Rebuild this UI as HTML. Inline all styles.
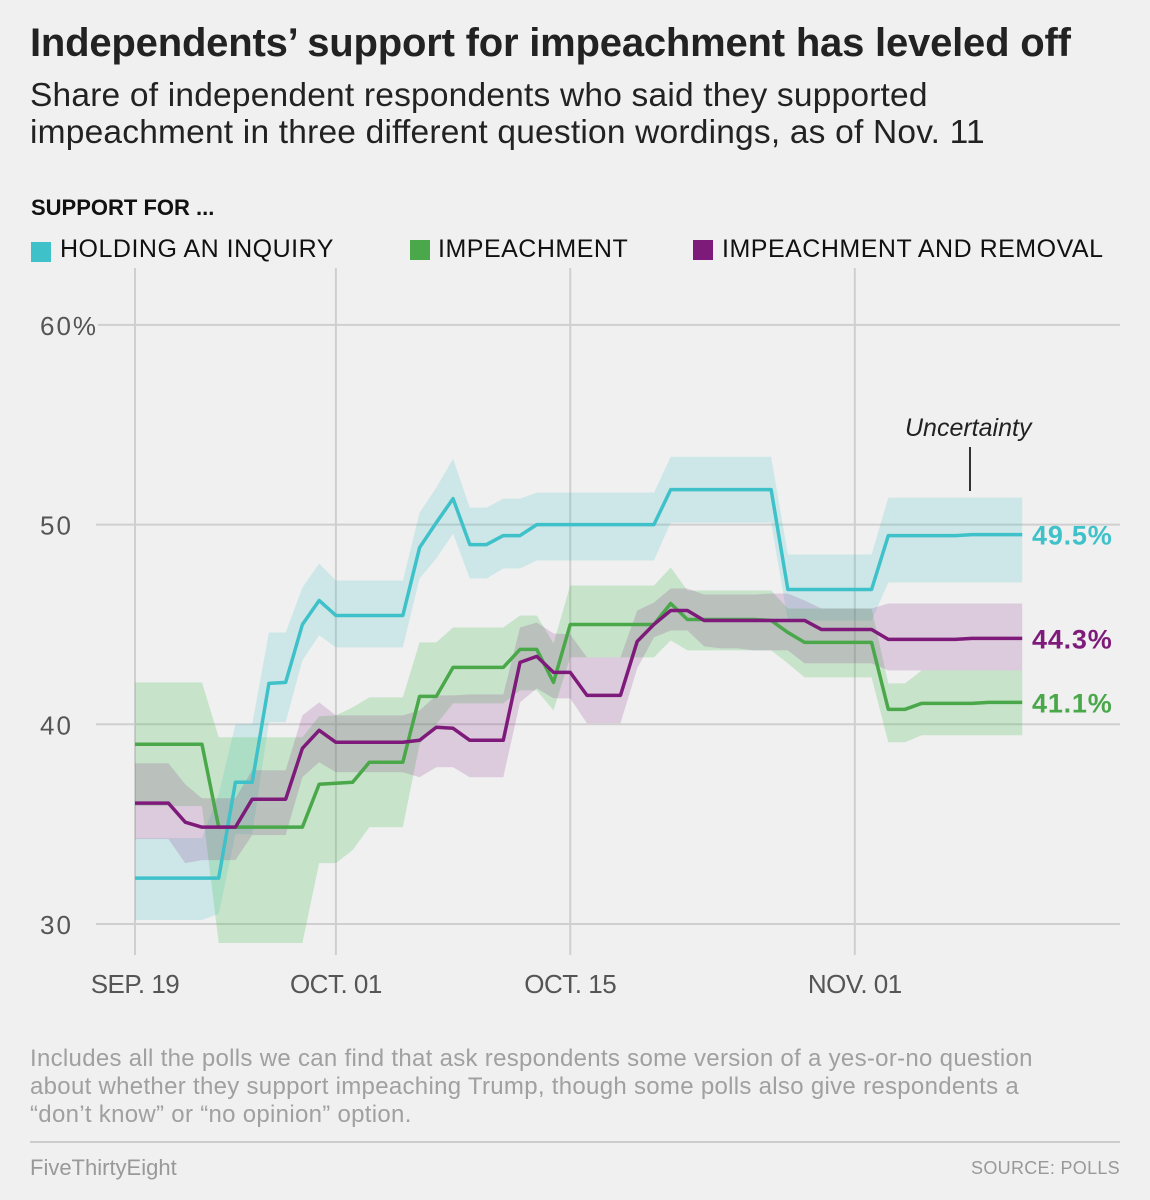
<!DOCTYPE html>
<html><head><meta charset="utf-8"><style>
body{margin:0;background:#f0f0f0;}
#wrap{position:relative;width:1150px;height:1200px;background:#f0f0f0;font-family:"Liberation Sans",sans-serif;overflow:hidden;}
.t{position:absolute;white-space:nowrap;}
</style></head><body>
<div id="wrap">
<div class="t" style="left:30px;top:21px;font-size:40px;font-weight:bold;color:#222;letter-spacing:-0.2px">Independents’ support for impeachment has leveled off</div>
<div class="t" style="left:30px;top:77px;font-size:33.5px;color:#222;line-height:37px;letter-spacing:0.2px">Share of independent respondents who said they supported<br>impeachment in three different question wordings, as of Nov. 11</div>
<div class="t" style="left:31px;top:195px;font-size:22px;font-weight:bold;color:#111">SUPPORT FOR ...</div>
<div><div style="position:absolute;left:31px;top:242px;width:20px;height:20px;background:#3fc1c9"></div><div class="t" style="left:60px;top:235px;font-size:25px;color:#111;letter-spacing:0.5px">HOLDING AN INQUIRY</div></div>
<div><div style="position:absolute;left:410px;top:240px;width:20px;height:20px;background:#4aa84a"></div><div class="t" style="left:438px;top:235px;font-size:25px;color:#111;letter-spacing:0.5px">IMPEACHMENT</div></div>
<div><div style="position:absolute;left:693px;top:240px;width:20px;height:20px;background:#7e1a7a"></div><div class="t" style="left:722px;top:235px;font-size:25px;color:#111;letter-spacing:0.5px">IMPEACHMENT AND REMOVAL</div></div>
<svg id="chart" width="1150" height="1200" style="position:absolute;left:0;top:0"></svg>
<div class="t" style="left:30px;top:1045px;font-size:24px;color:#a0a0a0;line-height:28px;letter-spacing:0.3px">Includes all the polls we can find that ask respondents some version of a yes-or-no question<br>about whether they support impeaching Trump, though some polls also give respondents a<br>“don’t know” or “no opinion” option.</div>
<div style="position:absolute;left:30px;top:1141px;width:1090px;height:2px;background:#ccc"></div>
<div class="t" style="left:30px;top:1155px;font-size:22px;color:#999">FiveThirtyEight</div>
<div class="t" style="right:30px;top:1158px;font-size:18px;color:#999;letter-spacing:0.3px">SOURCE: POLLS</div>
</div>
<script>
const xTickDays=[0,12,26,43];
const xTickLabels=["SEP. 19","OCT. 01","OCT. 15","NOV. 01"];
const yTicks=[30,40,50,60];
const yTickLabels=["30","40","50","60%"];
const inquiry=[32.3,32.3,32.3,32.3,32.3,32.3,37.1,37.1,42.05,42.1,45,46.2,45.45,45.45,45.45,45.45,45.45,48.85,50.1,51.3,49,49,49.45,49.45,50,50,50,50,50,50,50,50,51.75,51.75,51.75,51.75,51.75,51.75,51.75,46.75,46.75,46.75,46.75,46.75,46.75,49.45,49.45,49.45,49.45,49.45,49.5,49.5,49.5,49.5];
const inquiryHi=[34.3,34.3,34.3,34.3,34.3,36.5,40,40,44.6,44.6,46.85,48.05,47.2,47.2,47.2,47.2,47.2,50.6,51.85,53.3,50.85,50.85,51.3,51.3,51.6,51.6,51.6,51.6,51.6,51.6,51.6,51.6,53.4,53.4,53.4,53.4,53.4,53.4,53.4,48.5,48.5,48.5,48.5,48.5,48.5,51.35,51.35,51.35,51.35,51.35,51.35,51.35,51.35,51.35];
const inquiryLo=[30.2,30.2,30.2,30.2,30.2,30.5,34.5,34.5,40.1,40.1,43.2,44.45,43.85,43.85,43.85,43.85,43.85,47.3,48.3,49.55,47.3,47.3,47.8,47.8,48.2,48.2,48.2,48.2,48.2,48.2,48.2,48.2,50.1,50.1,50.1,50.1,50.1,50.1,50.1,45.2,45.2,45.2,45.2,45.2,45.2,47.1,47.1,47.1,47.1,47.1,47.1,47.1,47.1,47.1];
const impeach=[39,39,39,39,39,34.85,34.85,34.85,34.85,34.85,34.85,37,37.05,37.1,38.1,38.1,38.1,41.4,41.4,42.85,42.85,42.85,42.85,43.75,43.75,42.1,45,45,45,45,45,45,46.05,45.25,45.25,45.25,45.25,45.25,45.2,44.6,44.1,44.1,44.1,44.1,44.1,40.75,40.75,41.05,41.05,41.05,41.05,41.1,41.1,41.1];
const impeachHi=[42.1,42.1,42.1,42.1,42.1,39.35,39.35,39.35,39.35,39.35,39.35,40.4,40.45,40.85,41.35,41.35,41.35,44.1,44.1,44.85,44.85,44.85,44.85,45.45,45.45,44.05,46.95,46.95,46.95,46.95,46.95,46.95,47.85,46.7,46.7,46.7,46.7,46.7,46.7,45.8,45.8,45.8,45.8,45.8,45.8,42.05,42.05,42.7,42.7,42.7,42.7,42.7,42.7,42.7];
const impeachLo=[35.9,35.9,35.9,35.9,35.9,29.05,29.05,29.05,29.05,29.05,29.05,33.05,33.05,33.7,34.85,34.85,34.85,39,40,41.05,41.05,41.05,41.05,41.7,41.7,40.7,43.35,43.35,43.35,43.35,43.35,43.35,44.2,43.7,43.7,43.7,43.7,43.7,43.7,43.05,42.35,42.35,42.35,42.35,42.35,39.1,39.1,39.45,39.45,39.45,39.45,39.45,39.45,39.45];
const removal=[36.05,36.05,36.05,35.1,34.85,34.85,34.85,36.25,36.25,36.25,38.8,39.7,39.1,39.1,39.1,39.1,39.1,39.2,39.85,39.8,39.2,39.2,39.2,43.1,43.4,42.6,42.6,41.45,41.45,41.45,44.15,45,45.7,45.7,45.2,45.2,45.2,45.2,45.2,45.2,45.2,44.75,44.75,44.75,44.75,44.25,44.25,44.25,44.25,44.25,44.3,44.3,44.3,44.3];
const removalHi=[38.05,38.05,38.05,37,36.3,36.3,36.3,37.7,37.7,37.7,40.45,41.1,40.45,40.45,40.45,40.45,40.45,40.7,41.45,41.45,41.5,41.5,41.5,44.85,45.1,44.55,44.5,43.35,43.35,43.35,45.7,46.1,46.8,46.8,46.5,46.5,46.5,46.5,46.55,46.55,46.2,45.8,45.8,45.8,45.8,46.05,46.05,46.05,46.05,46.05,46.05,46.05,46.05,46.05];
const removalLo=[34.25,34.25,34.25,33.05,33.2,33.2,33.2,34.45,34.45,34.45,37.35,38.1,37.6,37.6,37.6,37.6,37.6,37.35,37.85,37.85,37.35,37.35,37.35,41.1,41.8,41.3,41.3,40.05,40.05,40.05,42.8,44.35,44.7,44.7,43.9,43.8,43.8,43.7,43.7,43.7,43.05,43.05,43.05,43.05,43.05,42.7,42.7,42.7,42.7,42.7,42.7,42.7,42.7,42.7];
const seriesNames=["inquiry","impeachment","removal"];
const endLabels=["49.5%","41.1%","44.3%"];

const NS="http://www.w3.org/2000/svg";
const svg=document.getElementById("chart");
function xs(d){return 135+d*16.74;}
function ys(v){return 924-(v-30)*19.97;}
function mk(tag,attrs){const e=document.createElementNS(NS,tag);for(const k in attrs)e.setAttribute(k,attrs[k]);svg.appendChild(e);return e;}

yTicks.forEach((v,i)=>{
  const l=mk("line",{x1:i===3?98:96,x2:1120,y1:ys(v),y2:ys(v),stroke:"#cfcfcf","stroke-width":2});
  
  
  const t=mk("text",{x:40,y:ys(v)+10,"font-size":26,fill:"#555","font-family":"Liberation Sans, sans-serif","letter-spacing":"2"});
  t.textContent=yTickLabels[i];
  
  
});
xTickDays.forEach((d,i)=>{
  const l=mk("line",{x1:xs(d),x2:xs(d),y1:268,y2:955,stroke:"#cfcfcf","stroke-width":2});
  
  
  const t=mk("text",{x:xs(d),y:993,"font-size":26,fill:"#555","text-anchor":"middle","font-family":"Liberation Sans, sans-serif","letter-spacing":"-0.5"});
  t.textContent=xTickLabels[i];
  
  
});

const cols=["#3fc1c9","#4aa84a","#7e1a7a"];
const bandCols=["rgba(63,193,201,0.2)","rgba(74,190,90,0.25)","rgba(126,26,122,0.17)"];
const vals=[inquiry,impeach,removal],his=[inquiryHi,impeachHi,removalHi],los=[inquiryLo,impeachLo,removalLo];
for(let s=0;s<3;s++){
  let p="";
  his[s].forEach((v,d)=>{p+=(d?"L":"M")+xs(d)+","+ys(v);});
  for(let d=los[s].length-1;d>=0;d--)p+="L"+xs(d)+","+ys(los[s][d]);
  const b=mk("path",{d:p+"Z",fill:bandCols[s]});
  
  
}
for(let s=0;s<3;s++){
  const pts=vals[s].map((v,d)=>xs(d)+","+ys(v)).join(" ");
  const l=mk("polyline",{points:pts,fill:"none",stroke:cols[s],"stroke-width":3.5,"stroke-linejoin":"round"});
  
  
  const last=vals[s][vals[s].length-1];
  const t=mk("text",{x:1032,y:ys(last)+10,"font-size":27,"font-weight":"bold",fill:cols[s],"font-family":"Liberation Sans, sans-serif","letter-spacing":"0.8"});
  t.textContent=endLabels[s];
  
  
}
const u=mk("text",{x:905,y:436,"font-size":25,"font-style":"italic",fill:"#222","font-family":"Liberation Sans, sans-serif"});
u.textContent="Uncertainty";


const ul=mk("line",{x1:970,x2:970,y1:447,y2:491,stroke:"#333","stroke-width":2});


</script>
</body></html>
